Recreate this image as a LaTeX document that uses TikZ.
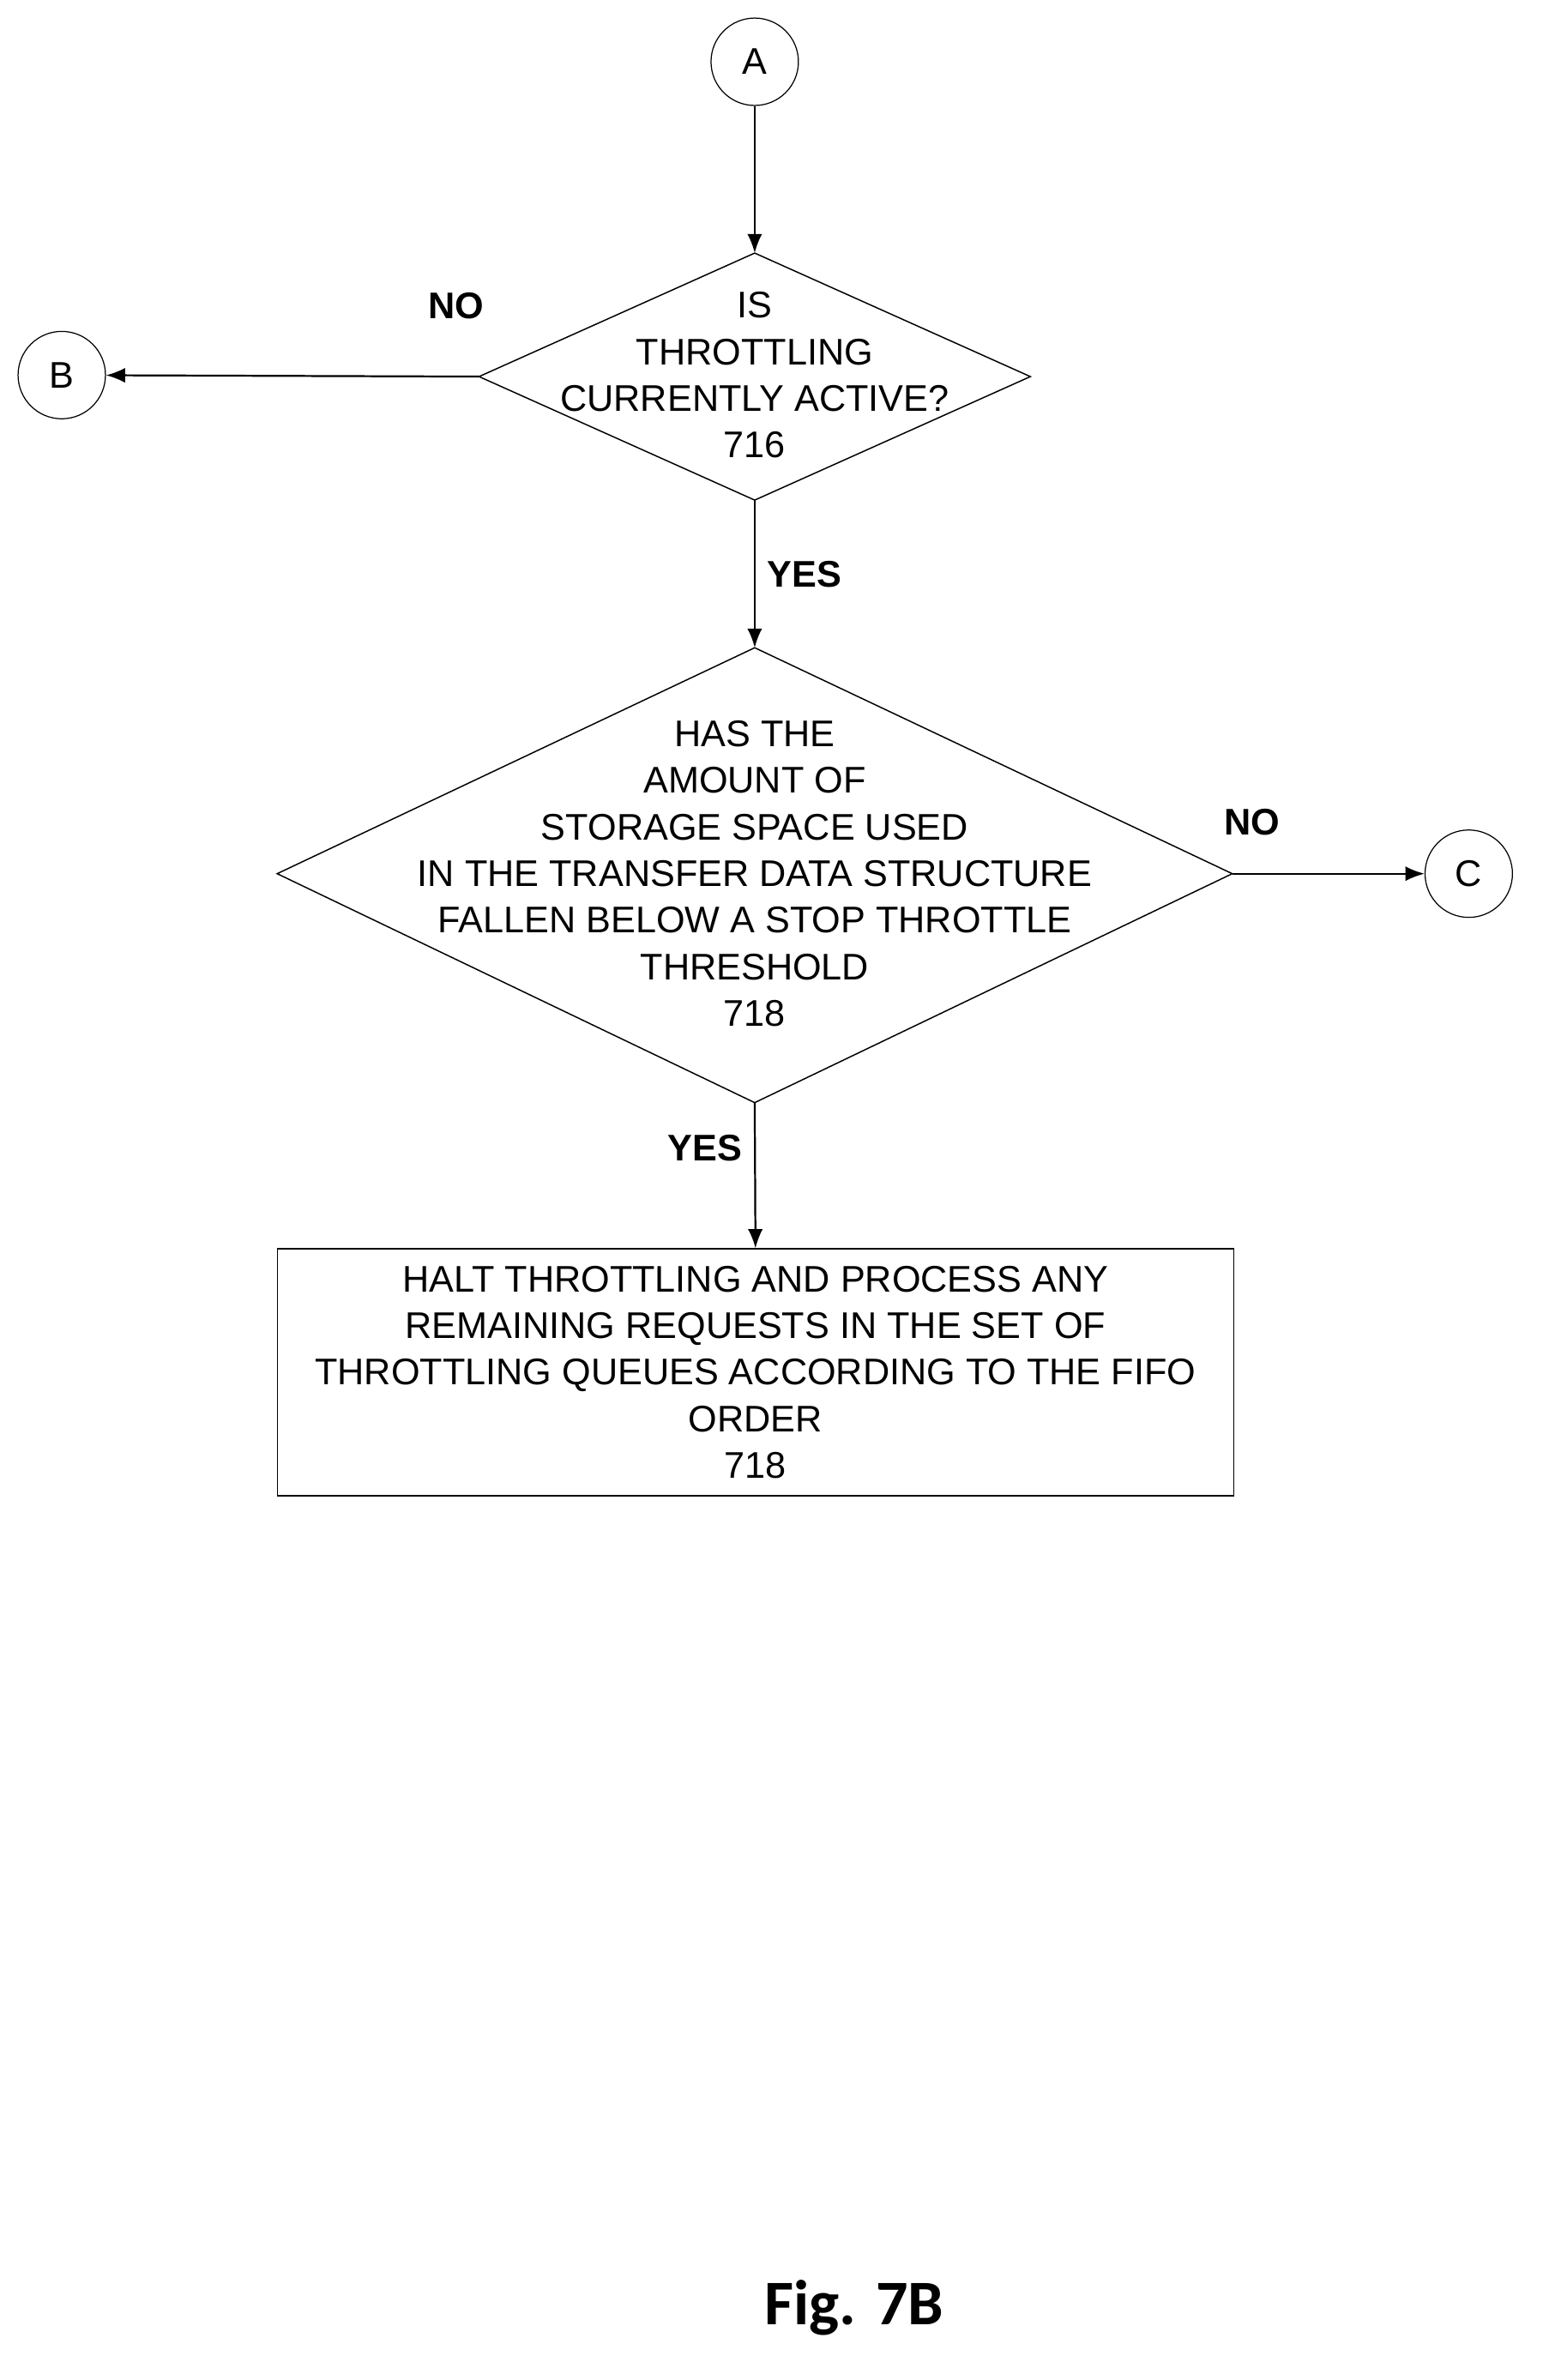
\documentclass[tikz,border=0pt]{standalone}
\usepackage{fontspec}
\setmainfont{Liberation Sans}
\newfontfamily\figfont{Carlito}
\usetikzlibrary{arrows.meta}
\begin{document}
\begin{tikzpicture}[x=0.025cm,y=-0.025cm,
  txt/.style={align=center,font=\fontsize{17.5}{22}\selectfont,inner sep=0},
  lbl/.style={font=\fontsize{17.5}{22}\selectfont\bfseries,inner sep=0},
  conn/.style={draw,circle,minimum size=29*0.05cm,inner sep=0,font=\fontsize{17.5}{22}\selectfont,line width=0.5pt},
  arr/.style={-{Latex[length=9pt,width=7pt]},line width=0.9pt},
  shp/.style={draw,line width=0.6pt}]
\useasboundingbox (0,0) rectangle (1024,1580);
\node[conn] (A) at (501,41) {A};
\node[conn] (B) at (41,249) {B};
\node[conn] (C) at (975,580) {C};
% diamond 1
\coordinate (d1t) at (501,168); \coordinate (d1r) at (684,250);
\coordinate (d1b) at (501,332); \coordinate (d1l) at (318,250);
\draw[shp] (d1t)--(d1r)--(d1b)--(d1l)--cycle;
\node[txt] (t1) at (501,249) {IS\\THROTTLING\\CURRENTLY ACTIVE?\\716};
% diamond 2
\coordinate (d2t) at (501,430); \coordinate (d2r) at (818,580);
\coordinate (d2b) at (501,732); \coordinate (d2l) at (184,580);
\draw[shp] (d2t)--(d2r)--(d2b)--(d2l)--cycle;
\node[txt] (t2) at (501,580) {HAS THE\\AMOUNT OF\\STORAGE SPACE USED\\IN THE TRANSFER DATA STRUCTURE\\FALLEN BELOW A STOP THROTTLE\\THRESHOLD\\718};
% box
\node[draw,line width=0.5pt,minimum width=635*0.025cm,minimum height=164*0.025cm,txt] (box) at (501.5,911)
 {HALT THROTTLING AND PROCESS ANY\\REMAINING REQUESTS IN THE SET OF\\THROTTLING QUEUES ACCORDING TO THE FIFO\\ORDER\\718};
\draw[arr] (A) -- (d1t);
\draw[arr] (d1l) -- (B);
\draw[arr] (d1b) -- (d2t);
\draw[arr] (d2r) -- (C);
\draw[arr] (d2b) -- (box.north);
\node[lbl] (n1) at (303,203) {NO};
\node[lbl] (y1) at (534,381) {YES};
\node[lbl] (n2) at (831,546) {NO};
\node[lbl] (y2) at (468,762) {YES};
\node[font=\figfont\fontsize{30}{36}\selectfont\bfseries,inner sep=0] (fig) at (567,1532) {Fig. 7B};
\end{tikzpicture}
\end{document}
